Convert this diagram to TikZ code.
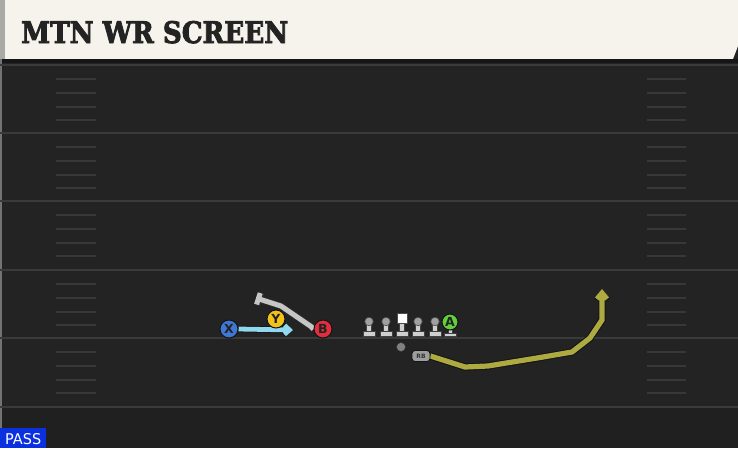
\documentclass[tikz,border=0pt]{standalone}
\usepackage{fontspec}
\setmainfont{DejaVu Serif}
\newfontfamily\titlef[FakeBold=3]{DejaVu Serif Bold}
\newfontfamily\sansf{DejaVu Sans}
\usetikzlibrary{arrows.meta}
\definecolor{field}{HTML}{232323}
\definecolor{fieldlow}{HTML}{202020}
\definecolor{yardc}{HTML}{3A3A3A}
\definecolor{hashc}{HTML}{383838}
\definecolor{titlebg}{HTML}{F5F3EC}
\definecolor{titletext}{HTML}{232323}
\definecolor{leftstrip}{HTML}{A9A9A6}
\definecolor{shadowc}{HTML}{161616}
\definecolor{passblue}{HTML}{0B30E0}
\definecolor{xblue}{HTML}{3F77D6}
\definecolor{yyellow}{HTML}{F2C21B}
\definecolor{bred}{HTML}{E02E3E}
\definecolor{agreen}{HTML}{62D03D}
\definecolor{xroutec}{HTML}{8FD8EE}
\definecolor{rbroutec}{HTML}{ADAA42}
\definecolor{blockc}{HTML}{C6C6C6}
\definecolor{linegray}{HTML}{CFCFCF}
\definecolor{headgray}{HTML}{A0A0A0}
\definecolor{outl}{HTML}{141414}
\pgfdeclarelayer{fg}
\pgfsetlayers{main,fg}
\begin{document}
\begin{tikzpicture}[x=1pt,y=-1pt,
  yard/.style={draw=yardc,line width=2pt},
  hash/.style={draw=hashc,line width=2pt},
  player/.style={circle,draw=outl,line width=1pt,minimum size=18pt,inner sep=0pt,
    font=\sansf\bfseries\fontsize{12.5}{12.5}\selectfont,text=titletext},
  lineman/.style={fill=linegray,draw=black!75,line width=0.6pt},
  xroute/.style={draw=xroutec,line width=4.8pt,
    preaction={draw=outl,line width=6.4pt},
    -{Straight Barb[length=5pt,width=9pt]}},
  rbroute/.style={draw=rbroutec,line width=5.2pt,
    preaction={draw=outl,line width=7.2pt},
    -{Straight Barb[length=6pt,width=10pt]}},
  blockroute/.style={draw=blockc,line width=5pt,
    preaction={draw=black!80,line width=6.4pt},
    -{Bar[width=12pt]}}]
\useasboundingbox (0,0) rectangle (738,448);
\fill[field] (0,0) rectangle (738,448);
\fill[fieldlow] (0,407) rectangle (738,448);
% title bar
\fill[titlebg] (5,0) -- (738,0) -- (738,46) -- (733,59) -- (5,59) -- cycle;
\fill[leftstrip] (0,0) rectangle (5,59);
\fill[shadowc] (0,59) rectangle (738,62.5);
\draw[black!55,line width=1.5pt] (0.75,59) -- (0.75,448);
\node[anchor=base west,inner sep=0pt,text=titletext] (title) at (21,43)
  {\resizebox{267pt}{22pt}{\titlef MTN WR SCREEN}};
% yard lines and hashes
\foreach \y in {65,133,201,270,338,407} \draw[yard] (0,\y) -- (738,\y);
\foreach \y in {65,133,201,270,338} {
  \foreach \d in {14,27.5,42,55} {
    \draw[hash] (56,\y+\d) -- (96,\y+\d);
    \draw[hash] (647,\y+\d) -- (686,\y+\d);
  }
}
% PASS label
\fill[passblue] (0,428) rectangle (46,448);
\node[anchor=base west,inner sep=0pt,text=white] (pass) at (5,444.5)
  {\resizebox{36pt}{11pt}{\sansf PASS}};
\begin{pgfonlayer}{fg}
% linemen
\foreach \x/\n in {369/L1,386/L2,418/L4,435/L5} {
  \draw[lineman] (\x-2.6,322) rectangle (\x+2.6,332);
  \draw[lineman] (\x-6,331) rectangle (\x+6,336.5);
  \node[circle,fill=headgray,draw=black!70,line width=0.6pt,minimum size=8.5pt,inner sep=0pt] (\n) at (\x,321.5) {};
}
\draw[lineman] (399.4,322) rectangle (404.6,332);
\draw[lineman] (396,331) rectangle (408,336.5);
\node[fill=white,draw=black!70,line width=0.6pt,minimum size=10pt,inner sep=0pt] (C) at (402,318) {};
% A with stand
\draw[lineman] (447.8,328) rectangle (452.2,334);
\draw[lineman] (444,333) rectangle (456,336.5);
\node[player,fill=agreen,minimum size=16pt] (A) at (450,322) {A};
% skill players
\node[player,fill=xblue] (X) at (229,329) {X};
\node[player,fill=yyellow] (Y) at (276,319) {Y};
\node[player,fill=bred] (B) at (323,329) {B};
\node[circle,fill=black!50,draw=black!80,line width=0.4pt,minimum size=9pt,inner sep=0pt] (QB) at (401,347) {};
\node[rectangle,rounded corners=3pt,fill=black!38,draw=outl,line width=0.9pt,
  minimum width=18pt,minimum height=11pt,inner sep=0pt,
  font=\sansf\bfseries\fontsize{6}{6}\selectfont,text=black!80] (RB) at (421,356) {RB};
\end{pgfonlayer}
% routes
\coordinate (xe) at (293,330);
\draw[xroute] (X.east) -- (xe);
\coordinate (bt) at (256,298);
\draw[blockroute] (B.west) -- (311,326.5) -- (281,306) -- (bt);
\coordinate (rbe) at (602,289);
\draw[rbroute] (RB.east) -- (465,367) -- (488,366) -- (543,357) -- (572,352)
  -- (590,338) -- (602,320) -- (rbe);
\end{tikzpicture}
\end{document}
